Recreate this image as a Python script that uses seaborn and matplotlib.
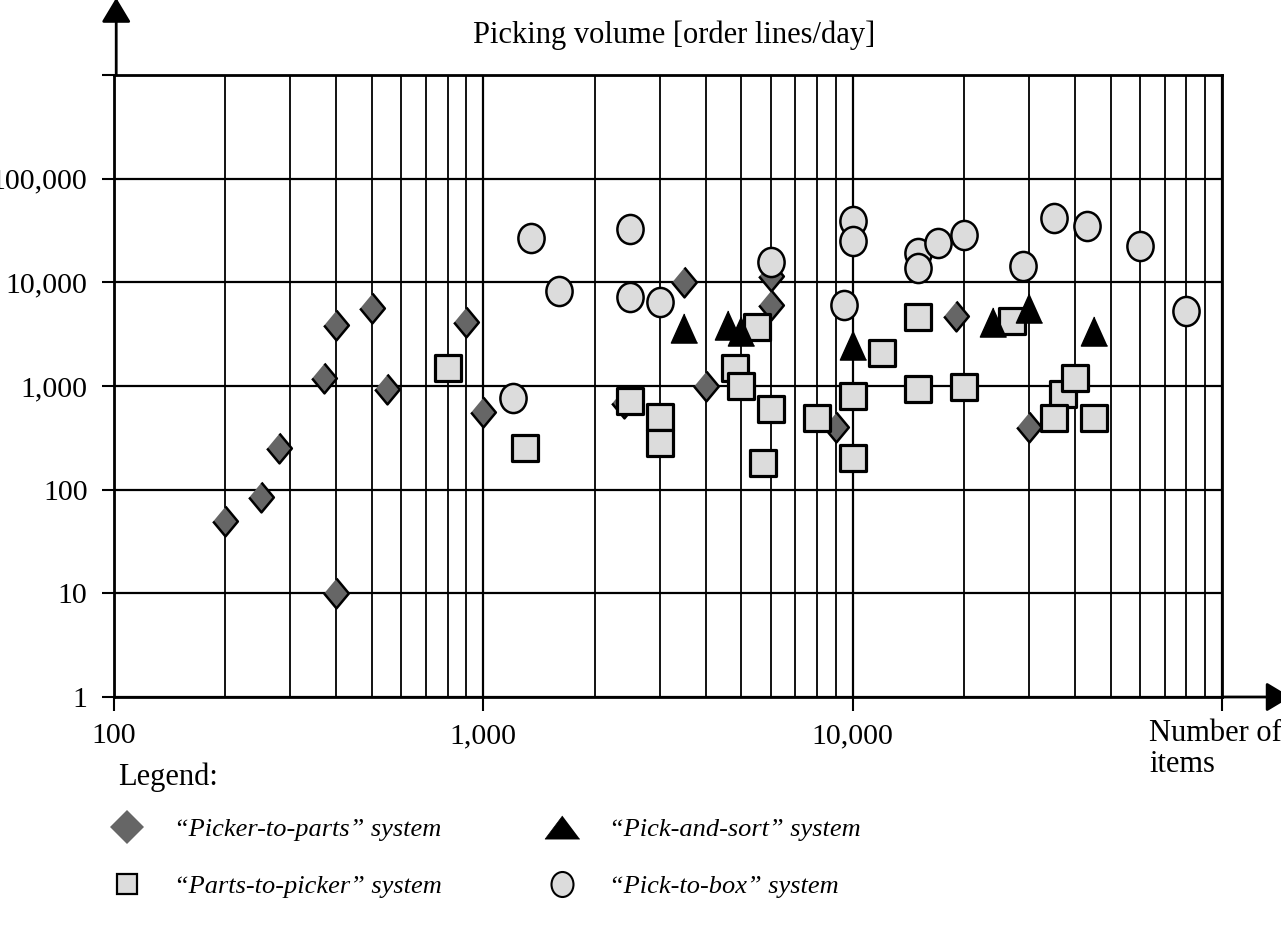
import numpy as np
import matplotlib
matplotlib.use("Agg")
import matplotlib.pyplot as plt
import seaborn as sns
from matplotlib.lines import Line2D
from matplotlib.path import Path
from matplotlib.ticker import LogLocator, NullLocator, FixedLocator

# Datos
picker_x = [200, 250, 280, 370, 400, 400, 500, 550, 900, 1000, 2400, 3500, 4000, 6000, 6000, 9000, 19000, 30000]
picker_y = [50, 85, 250, 1200, 3900, 10, 5700, 930, 4100, 560, 680, 10000, 1000, 11500, 6000, 400, 4700, 400]

parts_x = [800, 1300, 2500, 3000, 3000, 4800, 5000, 5500, 6000, 5700, 8000, 10000, 10000, 12000,
           15000, 15000, 20000, 27000, 37000, 40000, 35000, 45000]
parts_y = [1500, 250, 720, 500, 280, 1500, 1000, 3700, 600, 180, 490, 800, 200, 2100,
           4600, 930, 980, 4200, 830, 1200, 490, 490]

sort_x = [3500, 4600, 5000, 10000, 24000, 30000, 45000]
sort_y = [3600, 3900, 3400, 2500, 4100, 5600, 3400]

box_x = [1200, 1350, 1600, 2500, 2500, 3000, 6000, 9500, 10000, 10000, 15000, 15000, 17000,
         20000, 29000, 35000, 43000, 60000, 80000]
box_y = [760, 27000, 8300, 33000, 7300, 6500, 15700, 6000, 39000, 25000, 19000, 13800, 24000,
         28700, 14400, 42000, 35000, 22500, 5300]

x_ticks = [100, 1000, 10000, 100000]
x_labels = ['100', '1,000', '10,000', '']
y_ticks = [1, 10, 100, 1000, 10000, 100000, 1000000]
y_labels = ['1', '10', '100', '1,000', '10,000', '100,000', '']

legend_labels = ['\u201cPicker-to-parts\u201d system', '\u201cParts-to-picker\u201d system',
                 '\u201cPick-and-sort\u201d system', '\u201cPick-to-box\u201d system']

sns.set_style('white')
plt.rcParams['font.family'] = ['Liberation Serif', 'DejaVu Serif']
plt.rcParams['font.size'] = 22
for k in ['text.color', 'axes.labelcolor', 'xtick.color', 'ytick.color']:
    plt.rcParams[k] = 'black'

# Marcadores un poco estirados en vertical, como en la imagen original
diamante = [(0, 1), (0.83, 0), (0, -1), (-0.83, 0)]
triangulo = [(0, 1), (-0.9, -1), (0.9, -1)]
circ = Path.unit_circle()
elipse = Path(circ.vertices * np.array([0.9, 1.0]), circ.codes)
triangulo_ley = [(0, 1), (-1.5, -1), (1.5, -1)]
elipse_ley = Path(circ.vertices * np.array([0.88, 1.0]), circ.codes)

fig = plt.figure(figsize=(12.81, 9.32), dpi=100)
ax = fig.add_axes([114 / 1281, 1 - 697 / 932, (1222 - 114) / 1281, (697 - 75) / 932])

sns.scatterplot(x=picker_x, y=picker_y, marker=diamante, s=460, color='#666666',
                edgecolor='black', linewidth=1.8, ax=ax, zorder=3)
sns.scatterplot(x=parts_x, y=parts_y, marker='s', s=330, color='#dcdcdc',
                edgecolor='black', linewidth=2.3, ax=ax, zorder=4)
sns.scatterplot(x=sort_x, y=sort_y, marker=triangulo, s=440, color='black',
                edgecolor='black', linewidth=1, ax=ax, zorder=5)
sns.scatterplot(x=box_x, y=box_y, marker=elipse, s=440, color='#dcdcdc',
                edgecolor='black', linewidth=1.8, ax=ax, zorder=6)

ax.set_xscale('log')
ax.set_yscale('log')
ax.set_xlim(100, 100000)
ax.set_ylim(1, 1000000)
ax.xaxis.set_major_locator(FixedLocator(x_ticks))
ax.set_xticklabels(x_labels)
ax.xaxis.set_minor_locator(LogLocator(base=10, subs=range(2, 10)))
ax.yaxis.set_major_locator(FixedLocator(y_ticks))
ax.set_yticklabels(y_labels)
ax.yaxis.set_minor_locator(NullLocator())

ax.grid(which='major', axis='both', color='black', linewidth=1.6)
ax.grid(which='minor', axis='x', color='black', linewidth=1.3)
ax.set_axisbelow(True)
for sp in ax.spines.values():
    sp.set_color('black')
    sp.set_linewidth(2)

ax.tick_params(axis='y', which='major', direction='out', length=9, width=1.5, pad=10,
               labelsize=21.5, left=True, colors='black')
ax.tick_params(axis='x', which='major', direction='out', length=10, width=1.5, pad=9,
               labelsize=21.5, bottom=True, colors='black')
ax.tick_params(axis='x', which='minor', length=0)
ax.set_xlabel('')
ax.set_ylabel('')

# Flechas de los ejes
flecha = dict(arrowstyle='-|>,head_length=0.5,head_width=0.3', color='black', lw=2,
              mutation_scale=30, shrinkA=0, shrinkB=0)
ax.annotate('', xy=(0.002, 1.124), xytext=(0.002, 1.0), xycoords='axes fraction',
            arrowprops=flecha, annotation_clip=False)
ax.annotate('', xy=(1.062, 0), xytext=(1.0, 0), xycoords='axes fraction',
            arrowprops=flecha, annotation_clip=False)

fig.text(674 / 1281, 1 - 35 / 932, 'Picking volume [order lines/day]', ha='center', va='center', fontsize=22)
fig.text(1149 / 1281, 1 - 719 / 932, 'Number of\nitems', ha='left', va='top', fontsize=22, linespacing=1.1)
fig.text(118 / 1281, 1 - 777 / 932, 'Legend:', ha='left', va='center', fontsize=22)

# Leyenda en dos columnas
h_picker = Line2D([], [], linestyle='none', marker='D', markersize=17.5, markerfacecolor='#666666',
                  markeredgecolor='#666666', markeredgewidth=0)
h_parts = Line2D([], [], linestyle='none', marker='s', markersize=14, markerfacecolor='#dcdcdc',
                 markeredgecolor='black', markeredgewidth=1.6)
h_sort = Line2D([], [], linestyle='none', marker=triangulo_ley, markersize=25, markerfacecolor='black',
                markeredgecolor='black', markeredgewidth=0.5)
h_box = Line2D([], [], linestyle='none', marker=elipse_ley, markersize=18, markerfacecolor='#dcdcdc',
               markeredgecolor='black', markeredgewidth=1.5)

ley_kw = dict(frameon=False, loc='center left', borderpad=0, borderaxespad=0, handlelength=1.5,
              handletextpad=1.05, labelspacing=1.28,
              prop={'family': 'Liberation Serif', 'style': 'italic', 'size': 19})
fig.legend([h_picker, h_parts], legend_labels[:2], bbox_to_anchor=(107 / 1281, 1 - 858 / 932), **ley_kw)
fig.legend([h_sort, h_box], legend_labels[2:], bbox_to_anchor=(542 / 1281, 1 - 858 / 932), **ley_kw)

plt.savefig('out.png', dpi=100)
